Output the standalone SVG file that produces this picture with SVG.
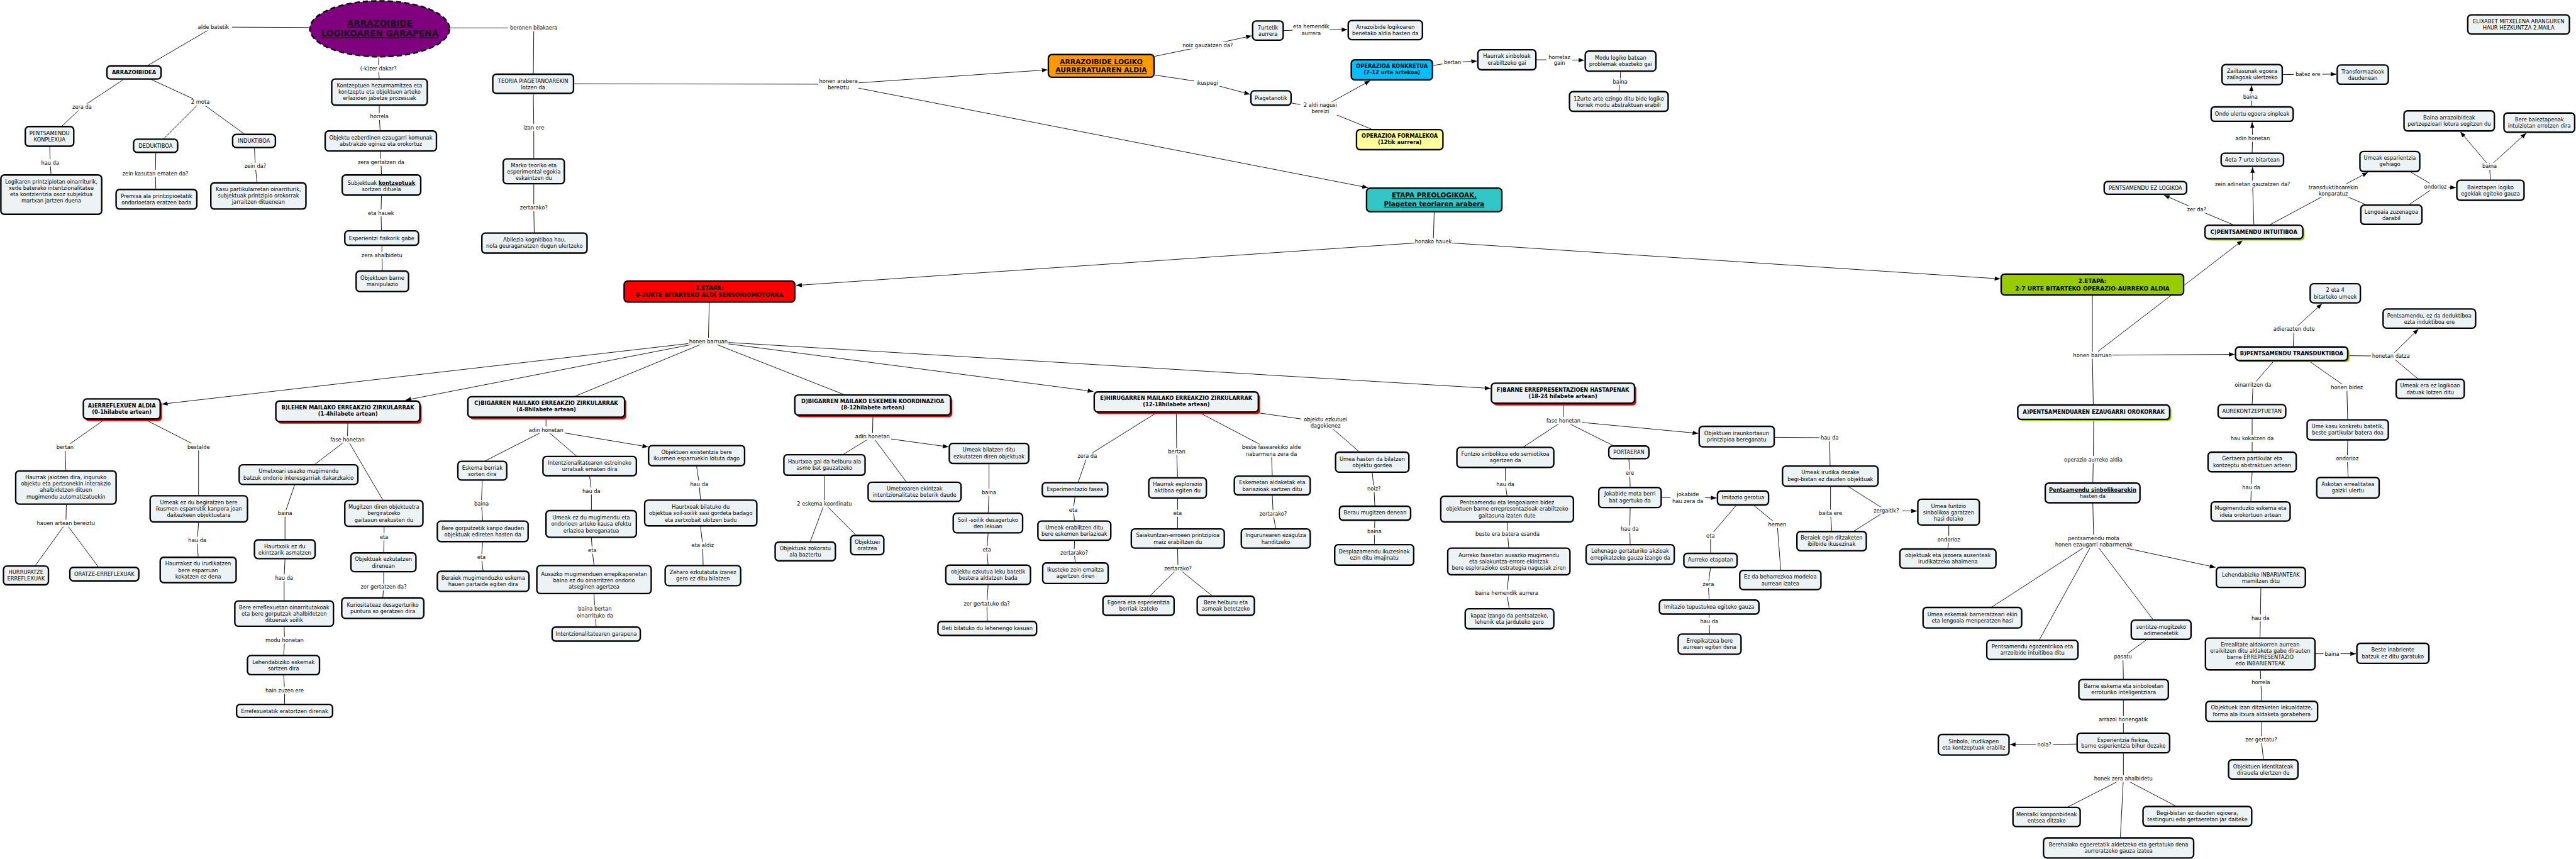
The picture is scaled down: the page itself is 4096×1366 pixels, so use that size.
<svg xmlns="http://www.w3.org/2000/svg" width="4096" height="1366" viewBox="0 0 4096 1366">
<style>
text{font-family:"DejaVu Sans","Liberation Sans",sans-serif;font-size:12px;text-anchor:middle;fill:#000}
.b{font-weight:bold}
.u{text-decoration:underline}
.n rect{fill:#EDF3F5;stroke:#000;stroke-width:3.4;rx:8px}
.n rect.sr{fill:#E60000;stroke:none}
.n rect.sg{fill:#99CC00;stroke:none}
.lb rect{fill:#fff;stroke:none}
.c path{fill:none;stroke:#000;stroke-width:1.3}
.c path.a{marker-end:url(#ah)}
</style>
<defs>
<marker id="ah" viewBox="0 0 13 10" refX="13" refY="5" markerWidth="13" markerHeight="10" markerUnits="userSpaceOnUse" orient="auto"><path d="M0,0L13,5L0,10z" fill="#000"/></marker>
</defs>
<rect width="4096" height="1366" fill="#fff"/>
<g transform="scale(0.694)">
<g id="connectors" class="c">
<path d="M707,63L489,62L337,151"/>
<path d="M282,183L188,245L141,290"/>
<path d="M346,182L459,234L374,319M459,234L560,307"/>
<path d="M114,336L115,373L117,401"/>
<path d="M357,350L356,397L357,434"/>
<path d="M583,339L585,381L589,419"/>
<path d="M868,131L867,157L869,181"/>
<path d="M869,242L869,267L871,300"/>
<path d="M872,347L873,372L874,401"/>
<path d="M874,448L873,488L874,529"/>
<path d="M875,563L875,585L876,621"/>
<path d="M1031,64L1223,64L1222,170"/>
<path d="M1222,215L1223,292L1223,364"/>
<path d="M1223,422L1223,476L1224,534"/>
<path d="M1315,192L1921,193"/>
<path class="a" d="M1921,193L2400,160"/>
<path class="a" d="M1921,193L3134,430"/>
<path class="a" d="M2646,129L2767,104L2868,82"/>
<path class="a" d="M2646,172L2766,190L2864,216"/>
<path class="a" d="M2941,70L3004,68L3087,68"/>
<path d="M2959,236L3025,248L3145,297"/>
<path class="a" d="M3025,248L3139,185"/>
<path class="a" d="M3283,150L3328,143L3384,140"/>
<path class="a" d="M3520,137L3573,137L3630,138"/>
<path d="M3713,164L3712,187L3709,210"/>
<path d="M3286,486L3284,554"/>
<path class="a" d="M3284,554L1824,654"/>
<path class="a" d="M3284,554L4583,639"/>
<path class="a" d="M5230,171L5288,170L5353,170"/>
<path class="a" d="M5160,245L5157,222L5159,196"/>
<path class="a" d="M5160,351L5161,317L5160,280"/>
<path class="a" d="M5164,516L5161,422L5161,383"/>
<path class="a" d="M5119,516L5033,480L4958,447"/>
<path d="M5199,516L5346,437L5423,470"/>
<path class="a" d="M5346,437L5425,395"/>
<path d="M5523,394L5580,428L5518,470"/>
<path class="a" d="M5580,428L5627,430"/>
<path d="M5706,413L5704,381"/>
<path class="a" d="M5704,381L5637,302"/>
<path class="a" d="M5704,381L5788,305"/>
<path d="M4794,677L4794,814L4796,928"/>
<path class="a" d="M4794,814L5120,812"/>
<path class="a" d="M4806,806L5138,551"/>
<path class="a" d="M5254,795L5256,754L5320,696"/>
<path d="M5380,815L5478,816L5541,869"/>
<path class="a" d="M5478,816L5541,754"/>
<path d="M5210,827L5162,882L5160,927"/>
<path d="M5290,827L5377,888L5379,962"/>
<path d="M5160,959L5160,1005L5160,1036"/>
<path d="M5160,1082L5158,1117L5157,1150"/>
<path d="M5379,1009L5378,1051L5380,1094"/>
<path d="M4797,962L4796,1053L4795,1107"/>
<path d="M4795,1153L4797,1240L4562,1392M4797,1240L4672,1467M4797,1240L4934,1421"/>
<path class="a" d="M4797,1240L5076,1300"/>
<path d="M5180,1347L5179,1416L5178,1462"/>
<path class="a" d="M5305,1498L5343,1498L5398,1498"/>
<path d="M5179,1536L5180,1564L5182,1607"/>
<path d="M5182,1654L5181,1695L5186,1741"/>
<path d="M4918,1466L4864,1505L4865,1557"/>
<path d="M4865,1604L4865,1649L4865,1680"/>
<path class="a" d="M4758,1705L4684,1706L4605,1706"/>
<path d="M4865,1726L4865,1784L4736,1850M4865,1784L4858,1920M4865,1784L4987,1848"/>
<path d="M1625,693L1623,782L1315,909M1623,782L1936,905"/>
<path class="a" d="M1623,782L371,926"/>
<path class="a" d="M1623,782L929,917"/>
<path class="a" d="M1623,782L2505,897"/>
<path class="a" d="M1623,782L3415,890"/>
<path d="M240,961L149,1025L151,1079"/>
<path d="M332,961L455,1024L455,1136"/>
<path d="M152,1156L151,1199L80,1297M151,1199L226,1300"/>
<path d="M455,1197L452,1238L454,1277"/>
<path d="M797,967L796,1007L720,1065M796,1007L878,1147"/>
<path d="M675,1111L653,1176L653,1237"/>
<path d="M653,1281L651,1324L651,1377"/>
<path d="M651,1436L652,1467L650,1502"/>
<path d="M650,1547L652,1582L652,1614"/>
<path d="M880,1207L880,1230L879,1267"/>
<path d="M879,1311L879,1345L877,1370"/>
<path d="M1251,957L1251,985L1110,1057M1251,985L1322,1046"/>
<path class="a" d="M1251,985L1485,1024"/>
<path d="M1105,1101L1103,1154L1106,1194"/>
<path d="M1106,1242L1103,1277L1107,1309"/>
<path d="M1351,1091L1355,1125L1355,1170"/>
<path d="M1355,1232L1357,1261L1361,1296"/>
<path d="M1361,1361L1363,1402L1366,1437"/>
<path d="M1596,1068L1602,1109L1605,1146"/>
<path d="M1605,1206L1610,1250L1611,1296"/>
<path d="M2000,952L1999,1000L1931,1042M1999,1000L2077,1105"/>
<path class="a" d="M1999,1000L2173,1024"/>
<path d="M1889,1090L1889,1154L1856,1242M1889,1154L1962,1227"/>
<path d="M2266,1063L2266,1128L2264,1176"/>
<path d="M2264,1222L2261,1260L2264,1295"/>
<path d="M2264,1340L2261,1383L2262,1424"/>
<path d="M2651,945L2491,1045L2470,1106"/>
<path d="M2695,945L2696,1035L2698,1095"/>
<path d="M2747,945L2913,1032L2915,1091"/>
<path d="M2883,946L3037,968L3115,1036"/>
<path d="M2463,1139L2459,1168L2462,1194"/>
<path d="M2462,1239L2461,1266L2464,1290"/>
<path d="M2698,1142L2698,1176L2698,1212"/>
<path d="M2698,1257L2699,1302L2634,1366M2699,1302L2778,1366"/>
<path d="M2915,1135L2917,1177L2923,1212"/>
<path d="M3582,925L3582,964L3489,1025M3582,964L3698,1022"/>
<path class="a" d="M3582,964L3891,993"/>
<path d="M3144,1083L3148,1120L3150,1160"/>
<path d="M3150,1193L3149,1218L3149,1248"/>
<path d="M3449,1072L3449,1110L3453,1137"/>
<path d="M3453,1197L3454,1224L3457,1256"/>
<path d="M3457,1318L3452,1359L3458,1395"/>
<path d="M3732,1052L3734,1084L3735,1117"/>
<path class="a" d="M3806,1140L3867,1140L3933,1141"/>
<path d="M3735,1164L3734,1212L3735,1248"/>
<path d="M3978,1158L3919,1227L3919,1268"/>
<path d="M4018,1158L4072,1202L4080,1307"/>
<path d="M3919,1301L3914,1339L3916,1375"/>
<path d="M3916,1408L3916,1424L3917,1453"/>
<path d="M4066,1002L4192,1003L4193,1068"/>
<path d="M4194,1115L4194,1176L4197,1218"/>
<path d="M4235,1115L4322,1170L4246,1218"/>
<path class="a" d="M4322,1170L4392,1171"/>
<path d="M4465,1204L4465,1236L4463,1258"/>
</g>
<g id="labels" class="lb">
<rect x="446.5" y="54" width="85" height="16"/><text x="489" y="66.3">alde batetik</text>
<rect x="162" y="237" width="52" height="16"/><text x="188" y="249.3">zera da</text>
<rect x="436" y="226" width="46" height="16"/><text x="459" y="238.3">2 mota</text>
<rect x="92" y="365" width="46" height="16"/><text x="115" y="377.3">hau da</text>
<rect x="277" y="389" width="158" height="16"/><text x="356" y="401.3">zein kasutan ematen da?</text>
<rect x="555.5" y="373" width="59" height="16"/><text x="585" y="385.3">zein da?</text>
<rect x="818" y="149" width="98" height="16"/><text x="867" y="161.3">(-k)zer dakar?</text>
<rect x="843" y="259" width="52" height="16"/><text x="869" y="271.3">horrela</text>
<rect x="814" y="364" width="118" height="16"/><text x="873" y="376.3">zera gertatzen da</text>
<rect x="840.5" y="480" width="65" height="16"/><text x="873" y="492.3">eta hauek</text>
<rect x="822.5" y="577" width="105" height="16"/><text x="875" y="589.3">zera ahalbidetu</text>
<rect x="1164" y="56" width="118" height="16"/><text x="1223" y="68.3">beronen bilakaera</text>
<rect x="1193.5" y="284" width="59" height="16"/><text x="1223" y="296.3">izan ere</text>
<rect x="1187" y="468" width="72" height="16"/><text x="1223" y="480.3">zertarako?</text>
<rect x="1875" y="177.6" width="92" height="30.7"/><text><tspan x="1921" y="189.9">honen arabera</tspan><tspan x="1921" y="204.6">bereiztu</tspan></text>
<rect x="2704.5" y="96" width="125" height="16"/><text x="2767" y="108.3">noiz gauzatzen da?</text>
<rect x="2736.5" y="182" width="59" height="16"/><text x="2766" y="194.3">ikuspegi</text>
<rect x="2961.5" y="53" width="85" height="30.8"/><text><tspan x="3004" y="65.3">eta hemendik</tspan><tspan x="3004" y="80.1">aurrera</tspan></text>
<rect x="2979" y="233" width="92" height="30.5"/><text><tspan x="3025" y="245.3">2 aldi nagusi</tspan><tspan x="3025" y="259.8">bereizi</tspan></text>
<rect x="3305" y="135" width="46" height="16"/><text x="3328" y="147.3">bertan</text>
<rect x="3543.5" y="122.5" width="59" height="30.3"/><text><tspan x="3573" y="134.8">horretaz</tspan><tspan x="3573" y="149.1">gain</tspan></text>
<rect x="3692.5" y="179" width="39" height="16"/><text x="3712" y="191.3">baina</text>
<rect x="3241.5" y="546" width="85" height="16"/><text x="3284" y="558.3">honako hauek</text>
<rect x="5255.5" y="162" width="65" height="16"/><text x="5288" y="174.3">batez ere</text>
<rect x="5136.5" y="214" width="39" height="16"/><text x="5156" y="226.3">baina</text>
<rect x="5118.5" y="309" width="85" height="16"/><text x="5161" y="321.3">adin honetan</text>
<rect x="5069" y="414" width="184" height="16"/><text x="5161" y="426.3">zein adinetan gauzatzen da?</text>
<rect x="5007" y="472" width="52" height="16"/><text x="5033" y="484.3">zer da?</text>
<rect x="5283.5" y="421.3" width="125" height="30.3"/><text><tspan x="5346" y="433.6">transduktiboarekin</tspan><tspan x="5346" y="447.9">konparatuz</tspan></text>
<rect x="5550.5" y="420" width="59" height="16"/><text x="5580" y="432.3">ondorioz</text>
<rect x="5684.5" y="373" width="39" height="16"/><text x="5704" y="385.3">baina</text>
<rect x="1577" y="774" width="92" height="16"/><text x="1623" y="786.3">honen barruan</text>
<rect x="126" y="1017" width="46" height="16"/><text x="149" y="1029.3">bertan</text>
<rect x="425.5" y="1016" width="59" height="16"/><text x="455" y="1028.3">bestalde</text>
<rect x="78.5" y="1191" width="145" height="16"/><text x="151" y="1203.3">hauen artean bereiztu</text>
<rect x="429" y="1230" width="46" height="16"/><text x="452" y="1242.3">hau da</text>
<rect x="753.5" y="999" width="85" height="16"/><text x="796" y="1011.3">fase honetan</text>
<rect x="633.5" y="1168" width="39" height="16"/><text x="653" y="1180.3">baina</text>
<rect x="867" y="1222" width="26" height="16"/><text x="880" y="1234.3">eta</text>
<rect x="628" y="1316" width="46" height="16"/><text x="651" y="1328.3">hau da</text>
<rect x="820" y="1337" width="118" height="16"/><text x="879" y="1349.3">zer gertatzen da?</text>
<rect x="609.5" y="1459" width="85" height="16"/><text x="652" y="1471.3">modu honetan</text>
<rect x="603" y="1574" width="98" height="16"/><text x="652" y="1586.3">hain zuzen ere</text>
<rect x="1208.5" y="977" width="85" height="16"/><text x="1251" y="989.3">adin honetan</text>
<rect x="1083.5" y="1146" width="39" height="16"/><text x="1103" y="1158.3">baina</text>
<rect x="1332" y="1117" width="46" height="16"/><text x="1355" y="1129.3">hau da</text>
<rect x="1090" y="1269" width="26" height="16"/><text x="1103" y="1281.3">eta</text>
<rect x="1344" y="1253" width="26" height="16"/><text x="1357" y="1265.3">eta</text>
<rect x="1314" y="1386.6" width="98" height="31.4"/><text><tspan x="1363" y="1398.9">baina bertan</tspan><tspan x="1363" y="1414.3">oinarrituko da</tspan></text>
<rect x="1579" y="1101" width="46" height="16"/><text x="1602" y="1113.3">hau da</text>
<rect x="1577.5" y="1242" width="65" height="16"/><text x="1610" y="1254.3">eta aldiz</text>
<rect x="1956.5" y="992" width="85" height="16"/><text x="1999" y="1004.3">adin honetan</text>
<rect x="1823.5" y="1146" width="131" height="16"/><text x="1889" y="1158.3">2 eskema koordinatu</text>
<rect x="2246.5" y="1120" width="39" height="16"/><text x="2266" y="1132.3">baina</text>
<rect x="2248" y="1252" width="26" height="16"/><text x="2261" y="1264.3">eta</text>
<rect x="2202" y="1375" width="118" height="16"/><text x="2261" y="1387.3">zer gertatuko da?</text>
<rect x="2465" y="1037" width="52" height="16"/><text x="2491" y="1049.3">zera da</text>
<rect x="2673" y="1027" width="46" height="16"/><text x="2696" y="1039.3">bertan</text>
<rect x="2837.5" y="1017" width="151" height="31"/><text><tspan x="2913" y="1029.3">beste fasearekiko alde</tspan><tspan x="2913" y="1044.3">nabarmena zera da</tspan></text>
<rect x="2446" y="1160" width="26" height="16"/><text x="2459" y="1172.3">eta</text>
<rect x="2425" y="1258" width="72" height="16"/><text x="2461" y="1270.3">zertarako?</text>
<rect x="2685" y="1168" width="26" height="16"/><text x="2698" y="1180.3">eta</text>
<rect x="2663" y="1294" width="72" height="16"/><text x="2699" y="1306.3">zertarako?</text>
<rect x="2881" y="1169" width="72" height="16"/><text x="2917" y="1181.3">zertarako?</text>
<rect x="2981" y="953" width="112" height="30"/><text><tspan x="3037" y="965.3">objektu ezkutuei</tspan><tspan x="3037" y="979.3">dagokienez</tspan></text>
<rect x="3539.5" y="956" width="85" height="16"/><text x="3582" y="968.3">fase honetan</text>
<rect x="3128.5" y="1112" width="39" height="16"/><text x="3148" y="1124.3">noiz?</text>
<rect x="3129.5" y="1210" width="39" height="16"/><text x="3149" y="1222.3">baina</text>
<rect x="3426" y="1102" width="46" height="16"/><text x="3449" y="1114.3">hau da</text>
<rect x="3375" y="1216" width="158" height="16"/><text x="3454" y="1228.3">beste era batera esanda</text>
<rect x="3376.5" y="1351" width="151" height="16"/><text x="3452" y="1363.3">baina hemendik aurrera</text>
<rect x="3721" y="1076" width="26" height="16"/><text x="3734" y="1088.3">ere</text>
<rect x="3827.5" y="1125" width="79" height="31"/><text><tspan x="3867" y="1137.3">jokabide</tspan><tspan x="3867" y="1152.3">hau zera da</tspan></text>
<rect x="3711" y="1204" width="46" height="16"/><text x="3734" y="1216.3">hau da</text>
<rect x="3906" y="1219" width="26" height="16"/><text x="3919" y="1231.3">eta</text>
<rect x="4052.5" y="1194" width="39" height="16"/><text x="4072" y="1206.3">hemen</text>
<rect x="3898" y="1331" width="32" height="16"/><text x="3914" y="1343.3">zera</text>
<rect x="3893" y="1416" width="46" height="16"/><text x="3916" y="1428.3">hau da</text>
<rect x="4169" y="995" width="46" height="16"/><text x="4192" y="1007.3">hau da</text>
<rect x="4161.5" y="1168" width="65" height="16"/><text x="4194" y="1180.3">baita ere</text>
<rect x="4286" y="1162" width="72" height="16"/><text x="4322" y="1174.3">zergaitik?</text>
<rect x="4435.5" y="1228" width="59" height="16"/><text x="4465" y="1240.3">ondorioz</text>
<rect x="4748" y="806" width="92" height="16"/><text x="4794" y="818.3">honen barruan</text>
<rect x="5203.5" y="746" width="105" height="16"/><text x="5256" y="758.3">adierazten dute</text>
<rect x="5432" y="808" width="92" height="16"/><text x="5478" y="820.3">honetan datza</text>
<rect x="5113" y="874" width="98" height="16"/><text x="5162" y="886.3">oinarritzen da</text>
<rect x="5337.5" y="880" width="79" height="16"/><text x="5377" y="892.3">honen bidez</text>
<rect x="5107.5" y="997" width="105" height="16"/><text x="5160" y="1009.3">hau kokatzen da</text>
<rect x="5135" y="1109" width="46" height="16"/><text x="5158" y="1121.3">hau da</text>
<rect x="5348.5" y="1043" width="59" height="16"/><text x="5378" y="1055.3">ondorioz</text>
<rect x="4720.5" y="1045" width="151" height="16"/><text x="4796" y="1057.3">operazio aurreko aldia</text>
<rect x="4701.5" y="1225" width="191" height="31"/><text><tspan x="4797" y="1237.3">pentsamendu mota</tspan><tspan x="4797" y="1252.3">honen ezaugarri nabarmenak</tspan></text>
<rect x="5156" y="1408" width="46" height="16"/><text x="5179" y="1420.3">hau da</text>
<rect x="5323.5" y="1490" width="39" height="16"/><text x="5343" y="1502.3">baina</text>
<rect x="5154" y="1556" width="52" height="16"/><text x="5180" y="1568.3">horrela</text>
<rect x="5138.5" y="1687" width="85" height="16"/><text x="5181" y="1699.3">zer gertatu?</text>
<rect x="4841" y="1497" width="46" height="16"/><text x="4864" y="1509.3">pasatu</text>
<rect x="4802.5" y="1641" width="125" height="16"/><text x="4865" y="1653.3">arrazoi honengatik</text>
<rect x="4664.5" y="1698" width="39" height="16"/><text x="4684" y="1710.3">nola?</text>
<rect x="4792.5" y="1776" width="145" height="16"/><text x="4865" y="1788.3">honek zera ahalbidetu</text>
</g>
<g id="nodes">
<g id="n1"><ellipse cx="870" cy="66" rx="160" ry="64" fill="#800080" stroke="#000" stroke-width="3.5" stroke-dasharray="12 7"/><text class="b u" style="font-size:19.5px;fill:#161616"><tspan x="870" y="60">ARRAZOIBIDE</tspan><tspan x="870" y="84">LOGIKOAREN GARAPENA</tspan></text></g>
<g id="n2" class="n"><rect x="245" y="151" width="124" height="30"/><text class="b" x="307" y="170.3">ARRAZOIBIDEA</text></g>
<g id="n3" class="n"><rect x="58" y="290" width="111" height="45"/><text><tspan x="113.5" y="309.5">PENTSAMENDU</tspan><tspan x="113.5" y="324">KONPLEXUA</tspan></text></g>
<g id="n4" class="n"><rect x="306" y="319" width="101" height="30"/><text x="356.5" y="338.3">DEDUKTIBOA</text></g>
<g id="n5" class="n"><rect x="533" y="308" width="98" height="30"/><text x="582" y="327.3">INDUKTIBOA</text></g>
<g id="n6" class="n"><rect x="2" y="401" width="231" height="90"/><text><tspan x="117.5" y="421">Logikaren printzipiotan oinarriturik,</tspan><tspan x="117.5" y="435.5">xede baterako intentzionalitatea</tspan><tspan x="117.5" y="450">eta kontzientzia osoz subjektua</tspan><tspan x="117.5" y="464">martxan jartzen duena</tspan></text></g>
<g id="n7" class="n"><rect x="266" y="434" width="185" height="45"/><text><tspan x="358.5" y="454.5">Premisa ala printzipioetatik</tspan><tspan x="358.5" y="469">ondorioetara eratzen bada</tspan></text></g>
<g id="n8" class="n"><rect x="483" y="419" width="218" height="60"/><text><tspan x="592" y="438">Kasu partikularretan oinarriturik,</tspan><tspan x="592" y="453">subjektuak printzipio orokorrak</tspan><tspan x="592" y="467.5">jarraitzen dituenean</tspan></text></g>
<g id="n9" class="n"><rect x="760" y="181" width="219" height="60"/><text><tspan x="869.5" y="200.5">Kontzeptuen hezurmamitzea eta</tspan><tspan x="869.5" y="215.3">kontzeptu eta objektuen arteko</tspan><tspan x="869.5" y="229.5">erlazioen jabetze prozesuak</tspan></text></g>
<g id="n10" class="n"><rect x="745" y="300" width="255" height="46"/><text><tspan x="872.5" y="319.3">Objektu ezberdinen ezaugarri komunak</tspan><tspan x="872.5" y="334">abstrakzio eginez eta orokortuz</tspan></text></g>
<g id="n11" class="n"><rect x="784" y="401" width="180" height="46"/><text><tspan x="874" y="424">Subjektuak <tspan class="b u">kontzeptuak</tspan></tspan><tspan x="874" y="438">sortzen dituela</tspan></text></g>
<g id="n12" class="n"><rect x="790" y="529" width="169" height="33"/><text x="874.5" y="550">Esperientzi fisikorik gabe</text></g>
<g id="n13" class="n"><rect x="816" y="621" width="120" height="47"/><text><tspan x="876" y="641">Objektuen barne</tspan><tspan x="876" y="656">manipulazio</tspan></text></g>
<g id="n14" class="n"><rect x="1129" y="170" width="185" height="44"/><text><tspan x="1221.5" y="189.5">TEORIA PIAGETANOAREKIN</tspan><tspan x="1221.5" y="204">lotzen da</tspan></text></g>
<g id="n15" class="n"><rect x="1153" y="364" width="140" height="57"/><text><tspan x="1223" y="383">Marko teoriko eta</tspan><tspan x="1223" y="398">esperimental egokia</tspan><tspan x="1223" y="412">eskaintzen du</tspan></text></g>
<g id="n16" class="n"><rect x="1104" y="534" width="241" height="46"/><text><tspan x="1224.5" y="553.5">Abilezia kognitiboa hau,</tspan><tspan x="1224.5" y="568">nola geuraganatzen dugun ulertzeko</tspan></text></g>
<g id="n17" class="n"><rect x="2402" y="125" width="242" height="52" style="fill:#FF9900"/><text class="b u" style="font-size:15.5px"><tspan x="2523" y="147">ARRAZOIBIDE LOGIKO</tspan><tspan x="2523" y="166">AURRERATUAREN ALDIA</tspan></text></g>
<g id="n18" class="n"><rect x="2870" y="48" width="70" height="44"/><text><tspan x="2905" y="67.5">7urtetik</tspan><tspan x="2905" y="82.5">aurrera</tspan></text></g>
<g id="n19" class="n"><rect x="2866" y="208" width="92" height="33"/><text x="2912" y="228.5">Piagetanotik</text></g>
<g id="n20" class="n"><rect x="3089" y="47" width="170" height="44"/><text><tspan x="3174" y="66.3">Arrazoibide logikoaren</tspan><tspan x="3174" y="81">benetako aldia hasten da</tspan></text></g>
<g id="n21" class="n"><rect x="3096" y="137" width="186" height="46" style="fill:#00BFFF"/><text class="b"><tspan x="3189" y="156">OPERAZIOA KONKRETUA</tspan><tspan x="3189" y="170.5">(7-12 urte artekoa)</tspan></text></g>
<g id="n22" class="n"><rect x="3108" y="297" width="198" height="46" style="fill:#FFFF99"/><text class="b"><tspan x="3207" y="316">OPERAZIOA FORMALEKOA</tspan><tspan x="3207" y="330.5">(12tik aurrera)</tspan></text></g>
<g id="n23" class="n"><rect x="3386" y="114" width="133" height="46"/><text><tspan x="3452.5" y="133">Haurrak sinboloak</tspan><tspan x="3452.5" y="148">erabiltzeko gai</tspan></text></g>
<g id="n24" class="n"><rect x="3632" y="117" width="162" height="46"/><text><tspan x="3713" y="136.5">Modu logiko batean</tspan><tspan x="3713" y="151">problemak ebazteko gai</tspan></text></g>
<g id="n25" class="n"><rect x="3596" y="210" width="226" height="45"/><text><tspan x="3709" y="230.3">12urte arte ezingo ditu bide logiko</tspan><tspan x="3709" y="245">horiek modu abstraktuan erabili</tspan></text></g>
<g id="n26" class="n"><rect x="3131" y="431" width="310" height="54" style="fill:#33C6C6"/><text class="b u" style="font-size:15px"><tspan x="3286" y="453">ETAPA PREOLOGIKOAK,</tspan><tspan x="3286" y="472.3">Piageten teoriaren arabera</tspan></text></g>
<g id="n27" class="n"><rect x="5654" y="34" width="233" height="44"/><text><tspan x="5770.5" y="52.7">ELIXABET MITXELENA ARANGUREN</tspan><tspan x="5770.5" y="67.4">HAUR HEZKUNTZA 2.MAILA</tspan></text></g>
<g id="n28" class="n"><rect x="5091" y="148" width="138" height="46"/><text><tspan x="5160" y="167.3">Zailtasunak egoera</tspan><tspan x="5160" y="182">zailagoak ulertzeko</tspan></text></g>
<g id="n29" class="n"><rect x="5355" y="149" width="117" height="44"/><text><tspan x="5413.5" y="168.3">Transformazioak</tspan><tspan x="5413.5" y="182.8">daudenean</tspan></text></g>
<g id="n30" class="n"><rect x="5066" y="245" width="188" height="33"/><text x="5160" y="265.3">Ondo ulertu egoera sinpleak</text></g>
<g id="n31" class="n"><rect x="5089" y="351" width="143" height="30"/><text x="5160.5" y="370">4eta 7 urte bitartean</text></g>
<g id="n32" class="n"><rect x="4821" y="416" width="189" height="29"/><text x="4915.5" y="435">PENTSAMENDU EZ LOGIKOA</text></g>
<g id="n33" class="n"><rect class="sg" x="5056" y="520" width="224" height="31"/><rect x="5052" y="516" width="224" height="31"/><text class="b" x="5164" y="535.5">C)PENTSAMENDU INTUITIBOA</text></g>
<g id="n34" class="n"><rect x="5407" y="347" width="137" height="46"/><text><tspan x="5475.5" y="366.3">Umeak esparientzia</tspan><tspan x="5475.5" y="381">gehiago</tspan></text></g>
<g id="n35" class="n"><rect x="5409" y="470" width="140" height="44"/><text><tspan x="5479" y="490.3">Lengoaia zuzenagoa</tspan><tspan x="5479" y="504.7">darabil</tspan></text></g>
<g id="n36" class="n"><rect x="5629" y="413" width="154" height="46"/><text><tspan x="5706" y="433.6">Baieztapen logiko</tspan><tspan x="5706" y="448">egokiak egiteko gauza</tspan></text></g>
<g id="n37" class="n"><rect x="5508" y="254" width="207" height="46"/><text><tspan x="5611.5" y="273.7">Baina arrazoibideak</tspan><tspan x="5611.5" y="288.4">pertzepzioari lotura segitzen du</tspan></text></g>
<g id="n38" class="n"><rect x="5737" y="259" width="162" height="44"/><text><tspan x="5818" y="278.7">Bere baieztapenak</tspan><tspan x="5818" y="293">intuiziotan errotzen dira</tspan></text></g>
<g id="n39" class="n"><rect x="4585" y="628" width="418" height="48" style="fill:#99CC00"/><text class="b" style="font-size:13px"><tspan x="4794" y="647.7">2.ETAPA:</tspan><tspan x="4794" y="665">2-7 URTE BITARTEKO OPERAZIO-AURREKO ALDIA</tspan></text></g>
<g id="n40" class="n"><rect x="1430" y="644" width="391" height="48" style="fill:#FF0000"/><text class="b" style="font-size:13px"><tspan x="1625.5" y="663.7">1.ETAPA:</tspan><tspan x="1625.5" y="680.7">0-2URTE BITARTEKO ALDI SENSORIOMOTORRA</tspan></text></g>
<g id="n41" class="n"><rect class="sr" x="195" y="919" width="176" height="46"/><rect x="191" y="914" width="176" height="46"/><text class="b"><tspan x="279" y="933">A)ERREFLEXUEN ALDIA</tspan><tspan x="279" y="948">(0-1hilabete artean)</tspan></text></g>
<g id="n42" class="n"><rect x="36" y="1079" width="230" height="76"/><text><tspan x="151" y="1098.3">Haurrak jaiotzen dira, inguruko</tspan><tspan x="151" y="1113">objektu eta pertsonekin interakzio</tspan><tspan x="151" y="1127.3">ahalbidetzen dituen</tspan><tspan x="151" y="1142">mugimendu automatizatuekin</tspan></text></g>
<g id="n43" class="n"><rect x="8" y="1297" width="103" height="43"/><text><tspan x="59.5" y="1315.8">HURRUPATZE</tspan><tspan x="59.5" y="1330.3">ERREFLEXUAK</tspan></text></g>
<g id="n44" class="n"><rect x="160" y="1300" width="158" height="31"/><text x="239" y="1320.3">ORATZE-ERREFLEXUAK</text></g>
<g id="n45" class="n"><rect x="344" y="1136" width="223" height="60"/><text><tspan x="455.5" y="1155">Umeak ez du begiratzen bere</tspan><tspan x="455.5" y="1170">ikusmen-esparrutik kanpora joan</tspan><tspan x="455.5" y="1184.3">daitezkeen objektuetara</tspan></text></g>
<g id="n46" class="n"><rect x="367" y="1277" width="174" height="58"/><text><tspan x="454" y="1296">Haurrakez du irudikatzen</tspan><tspan x="454" y="1310.7">bere esparruan</tspan><tspan x="454" y="1325.6">kokatzen ez dena</tspan></text></g>
<g id="n47" class="n"><rect class="sr" x="636" y="924" width="330" height="47"/><rect x="632" y="919" width="330" height="47"/><text class="b"><tspan x="797" y="938">B)LEHEN MAILAKO ERREAKZIO ZIRKULARRAK</tspan><tspan x="797" y="952.6">(1-4hilabete artean)</tspan></text></g>
<g id="n48" class="n"><rect x="548" y="1065" width="272" height="45"/><text><tspan x="684" y="1084">Umetxoari usazko mugimendu</tspan><tspan x="684" y="1098.8">batzuk ondorio interesgarriak dakarzkakio</tspan></text></g>
<g id="n49" class="n"><rect x="790" y="1147" width="179" height="59"/><text><tspan x="879.5" y="1166">Mugitzen diren objektuetra</tspan><tspan x="879.5" y="1180.7">bergiratzeko</tspan><tspan x="879.5" y="1195.3">gaitasun erakusten du</tspan></text></g>
<g id="n50" class="n"><rect x="583" y="1237" width="139" height="43"/><text><tspan x="652.5" y="1256.2">Haurtxoik ez du</tspan><tspan x="652.5" y="1271">ekintzarik asmatzen</tspan></text></g>
<g id="n51" class="n"><rect x="804" y="1267" width="149" height="43"/><text><tspan x="878.5" y="1286">Objektuak ezkutatzen</tspan><tspan x="878.5" y="1300.8">direnean</tspan></text></g>
<g id="n52" class="n"><rect x="538" y="1377" width="226" height="58"/><text><tspan x="651" y="1396.3">Bere erreflexuetan oinarritutakoak</tspan><tspan x="651" y="1411.3">eta bere gorputzak ahalbidetzen</tspan><tspan x="651" y="1425.7">dituenak soilik</tspan></text></g>
<g id="n53" class="n"><rect x="783" y="1370" width="188" height="47"/><text><tspan x="877" y="1390.3">Kuriositateaz desagerturiko</tspan><tspan x="877" y="1405">puntura so geratzen dira</tspan></text></g>
<g id="n54" class="n"><rect x="567" y="1502" width="165" height="44"/><text><tspan x="649.5" y="1521.6">Lehendabiziko eskemak</tspan><tspan x="649.5" y="1536">sortzen dira</tspan></text></g>
<g id="n55" class="n"><rect x="542" y="1614" width="220" height="30"/><text x="652" y="1633.3">Errefexuetatik eratortzen direnak</text></g>
<g id="n56" class="n"><rect class="sr" x="1076" y="914" width="359" height="47"/><rect x="1072" y="909" width="359" height="47"/><text class="b"><tspan x="1251.5" y="928">C)BIGARREN MAILAKO ERREAKZIO ZIRKULARRAK</tspan><tspan x="1251.5" y="942.7">(4-8hilabete artean)</tspan></text></g>
<g id="n57" class="n"><rect x="1049" y="1057" width="112" height="43"/><text><tspan x="1105" y="1076.3">Eskema berriak</tspan><tspan x="1105" y="1091">sorten dira</tspan></text></g>
<g id="n58" class="n"><rect x="1244" y="1046" width="214" height="44"/><text><tspan x="1351" y="1065">Intentzionalitatearen estreineko</tspan><tspan x="1351" y="1079.7">urratsak ematen dira</tspan></text></g>
<g id="n59" class="n"><rect x="1002" y="1194" width="208" height="47"/><text><tspan x="1106" y="1214">Bere gorputzetik kanpo dauden</tspan><tspan x="1106" y="1229">objektuak edireten hasten da</tspan></text></g>
<g id="n60" class="n"><rect x="1251" y="1170" width="207" height="61"/><text><tspan x="1354.5" y="1190.3">Umeak ez du mugimendu eta</tspan><tspan x="1354.5" y="1205">ondorioen arteko kausa efektu</tspan><tspan x="1354.5" y="1219.8">erlazioa bereganatua</tspan></text></g>
<g id="n61" class="n"><rect x="1002" y="1309" width="210" height="46"/><text><tspan x="1107" y="1328.6">Beraiek mugimenduzko eskema</tspan><tspan x="1107" y="1343">hauen partaide egiten dira</tspan></text></g>
<g id="n62" class="n"><rect x="1230" y="1296" width="262" height="64"/><text><tspan x="1361" y="1319.6">Ausazko mugimenduen errepikapenetan</tspan><tspan x="1361" y="1334">baino ez du oinarritzen ondorio</tspan><tspan x="1361" y="1348.6">atseginen agertzea</tspan></text></g>
<g id="n63" class="n"><rect x="1265" y="1437" width="202" height="32"/><text x="1366" y="1456.3">Intentzionalitatearen garapena</text></g>
<g id="n64" class="n"><rect x="1486" y="1021" width="220" height="46"/><text><tspan x="1596" y="1040.3">Objektuen existentzia bere</tspan><tspan x="1596" y="1055">ikusmen esparruekin lotuta dago</tspan></text></g>
<g id="n65" class="n"><rect x="1477" y="1146" width="257" height="59"/><text><tspan x="1605.5" y="1166">Haurtxoak bilatuko du</tspan><tspan x="1605.5" y="1180.7">objektua soil-soilik sasi gordeta badago</tspan><tspan x="1605.5" y="1195.3">eta zertxobait ukitzen badu</tspan></text></g>
<g id="n66" class="n"><rect x="1524" y="1296" width="173" height="46"/><text><tspan x="1610.5" y="1315.3">Zeharo ezkutatuta izanez</tspan><tspan x="1610.5" y="1330">gero ez ditu bilatzen</tspan></text></g>
<g id="n67" class="n"><rect class="sr" x="1825" y="910" width="357" height="46"/><rect x="1821" y="905" width="357" height="46"/><text class="b"><tspan x="1999.5" y="924">D)BIGARREN MAILAKO ESKEMEN KOORDINAZIOA</tspan><tspan x="1999.5" y="938.7">(8-12hilabete artean)</tspan></text></g>
<g id="n68" class="n"><rect x="1796" y="1042" width="186" height="47"/><text><tspan x="1889" y="1062.3">Haurtxoa gai da helburu ala</tspan><tspan x="1889" y="1077">asmo bat gauzatzeko</tspan></text></g>
<g id="n69" class="n"><rect x="1989" y="1105" width="213" height="44"/><text><tspan x="2095.5" y="1124">Umetxoaren ekintzak</tspan><tspan x="2095.5" y="1138.7">intentzionalitatez beterik daude</tspan></text></g>
<g id="n70" class="n"><rect x="2175" y="1016" width="182" height="46"/><text><tspan x="2266" y="1035">Umeak bilatzen ditu</tspan><tspan x="2266" y="1049.8">ezkutatzen diren objektuak</tspan></text></g>
<g id="n71" class="n"><rect x="1776" y="1242" width="138" height="43"/><text><tspan x="1845" y="1261">Objektuak zokoratu</tspan><tspan x="1845" y="1275.7">ala baztertu</tspan></text></g>
<g id="n72" class="n"><rect x="1949" y="1227" width="76" height="44"/><text><tspan x="1987" y="1246.3">Objektuei</tspan><tspan x="1987" y="1261">oratzea</tspan></text></g>
<g id="n73" class="n"><rect x="2184" y="1176" width="159" height="45"/><text><tspan x="2263.5" y="1196">Soil -soilik desagertuko</tspan><tspan x="2263.5" y="1210.6">den lekuan</tspan></text></g>
<g id="n74" class="n"><rect x="2167" y="1295" width="194" height="44"/><text><tspan x="2264" y="1313.7">objektu ezkutua leku batetik</tspan><tspan x="2264" y="1329">bestera aldatzen bada</tspan></text></g>
<g id="n75" class="n"><rect x="2149" y="1424" width="226" height="32"/><text x="2262" y="1443.3">Beti bilatuko du lehenengo kasuan</text></g>
<g id="n76" class="n"><rect class="sr" x="2511" y="903" width="376" height="46"/><rect x="2507" y="898" width="376" height="46"/><text class="b"><tspan x="2695" y="916.6">E)HIRUGARREN MAILAKO ERREAKZIO ZIRKULARRAK</tspan><tspan x="2695" y="931.3">(12-18hilabete artean)</tspan></text></g>
<g id="n77" class="n"><rect x="2388" y="1106" width="150" height="32"/><text x="2463" y="1124.8">Esperimentazio fasea</text></g>
<g id="n78" class="n"><rect x="2378" y="1194" width="167" height="44"/><text><tspan x="2461.5" y="1212.8">Umeak erabiltzen ditu</tspan><tspan x="2461.5" y="1227.6">bere eskemen bariazioak</tspan></text></g>
<g id="n79" class="n"><rect x="2389" y="1290" width="150" height="47"/><text><tspan x="2464" y="1310.3">Ikusteko zein emaitza</tspan><tspan x="2464" y="1324.8">agertzen diren</tspan></text></g>
<g id="n80" class="n"><rect x="2632" y="1095" width="132" height="46"/><text><tspan x="2698" y="1114">Haurrak esplorazio</tspan><tspan x="2698" y="1128.7">aktiboa egiten du</tspan></text></g>
<g id="n81" class="n"><rect x="2592" y="1212" width="213" height="44"/><text><tspan x="2698.5" y="1231">Saiakuntzan-erroeen printzipioa</tspan><tspan x="2698.5" y="1245.8">maiz erabiltzen du</tspan></text></g>
<g id="n82" class="n"><rect x="2527" y="1366" width="163" height="44"/><text><tspan x="2608.5" y="1384.8">Egoera eta esperientzia</tspan><tspan x="2608.5" y="1399.3">berriak izateko</tspan></text></g>
<g id="n83" class="n"><rect x="2743" y="1366" width="131" height="44"/><text><tspan x="2808.5" y="1384.8">Bere helburu eta</tspan><tspan x="2808.5" y="1399.3">asmoak betetzeko</tspan></text></g>
<g id="n84" class="n"><rect x="2828" y="1091" width="174" height="43"/><text><tspan x="2915" y="1110">Eskemetan aldaketak eta</tspan><tspan x="2915" y="1124.8">bariazioak sartzen ditu</tspan></text></g>
<g id="n85" class="n"><rect x="2844" y="1212" width="158" height="44"/><text><tspan x="2923" y="1231">Ingurunearen ezagutza</tspan><tspan x="2923" y="1245.8">handitzeko</tspan></text></g>
<g id="n86" class="n"><rect class="sr" x="3421" y="883" width="328" height="46"/><rect x="3417" y="878" width="328" height="46"/><text class="b"><tspan x="3581" y="897">F)BARNE ERREPRESENTAZIOEN HASTAPENAK</tspan><tspan x="3581" y="912">(18-24 hilabete artean)</tspan></text></g>
<g id="n87" class="n"><rect x="3893" y="977" width="172" height="47"/><text><tspan x="3979" y="997.3">Objektuen iraunkortasun</tspan><tspan x="3979" y="1012">printzipioa bereganatu</tspan></text></g>
<g id="n88" class="n"><rect x="3338" y="1025" width="222" height="46"/><text><tspan x="3449" y="1045">Funtzio sinbolikoa edo semiotikoa</tspan><tspan x="3449" y="1059.7">agertzen da</tspan></text></g>
<g id="n89" class="n"><rect x="3686" y="1022" width="92" height="29"/><text x="3732" y="1040.7">PORTAERAN</text></g>
<g id="n90" class="n"><rect x="3060" y="1036" width="168" height="46"/><text><tspan x="3144" y="1056.3">Umea hasten da bilatzen</tspan><tspan x="3144" y="1071">objektu gordea</tspan></text></g>
<g id="n91" class="n"><rect x="3069" y="1160" width="163" height="32"/><text x="3150.5" y="1179">Berau mugitzen denean</text></g>
<g id="n92" class="n"><rect x="3058" y="1248" width="181" height="47"/><text><tspan x="3148.5" y="1268">Desplazamendu ikuzesinak</tspan><tspan x="3148.5" y="1282.6">ezin ditu imajinatu</tspan></text></g>
<g id="n93" class="n"><rect x="3301" y="1137" width="304" height="59"/><text><tspan x="3453" y="1156">Pentsamendu eta lengoaiaren bidez</tspan><tspan x="3453" y="1170.7">objektuen barne errepresentazioak erabiltzeko</tspan><tspan x="3453" y="1185.3">gaitasuna izaten dute</tspan></text></g>
<g id="n94" class="n"><rect x="3317" y="1256" width="280" height="61"/><text><tspan x="3457" y="1276">Aurreko faseetan ausazko mugimendu</tspan><tspan x="3457" y="1291">eta saiakuntza-errore ekintzak</tspan><tspan x="3457" y="1305.2">bere esplorazioko estrategia nagusiak ziren</tspan></text></g>
<g id="n95" class="n"><rect x="3357" y="1395" width="203" height="46"/><text><tspan x="3458.5" y="1414.3">kapaz izango da pentsatzeko,</tspan><tspan x="3458.5" y="1428.7">lehenik eta jarduteko gero</tspan></text></g>
<g id="n96" class="n"><rect x="3663" y="1117" width="143" height="46"/><text><tspan x="3734.5" y="1136">Jokabide mota berri</tspan><tspan x="3734.5" y="1150.8">bat agertuko da</tspan></text></g>
<g id="n97" class="n"><rect x="3935" y="1125" width="117" height="32"/><text x="3993.5" y="1144">Imitazio gerotua</text></g>
<g id="n98" class="n"><rect x="3634" y="1248" width="202" height="45"/><text><tspan x="3735" y="1267">Lehenago gertaturiko akzioak</tspan><tspan x="3735" y="1281.8">errepikatzeko gauza izango da</tspan></text></g>
<g id="n99" class="n"><rect x="3858" y="1268" width="122" height="32"/><text x="3919" y="1287">Aurreko etapatan</text></g>
<g id="n100" class="n"><rect x="3802" y="1375" width="228" height="32"/><text x="3916" y="1394.3">Imitazio tupustukoa egiteko gauza</text></g>
<g id="n101" class="n"><rect x="3845" y="1453" width="144" height="46"/><text><tspan x="3917" y="1472.2">Errepikatzea bere</tspan><tspan x="3917" y="1486.7">aurrean egiten dena</tspan></text></g>
<g id="n102" class="n"><rect x="3986" y="1307" width="186" height="44"/><text><tspan x="4079" y="1326">Ez da beharrezkoa modeloa</tspan><tspan x="4079" y="1341">aurrean izatea</tspan></text></g>
<g id="n103" class="n"><rect x="4084" y="1068" width="219" height="46"/><text><tspan x="4193.5" y="1087">Umeak irudika dezake</tspan><tspan x="4193.5" y="1101.8">begi-bistan ez dauden objektuak</tspan></text></g>
<g id="n104" class="n"><rect x="4117" y="1218" width="159" height="44"/><text><tspan x="4196.5" y="1236.7">Beraiek egin ditzaketen</tspan><tspan x="4196.5" y="1251.4">ibilbide ikusezinak</tspan></text></g>
<g id="n105" class="n"><rect x="4394" y="1144" width="141" height="59"/><text><tspan x="4464.5" y="1163.8">Umea funtzio</tspan><tspan x="4464.5" y="1178.5">sinbolikoa garatzen</tspan><tspan x="4464.5" y="1193">hasi delako</tspan></text></g>
<g id="n106" class="n"><rect x="4353" y="1258" width="220" height="44"/><text><tspan x="4463" y="1277.3">objektuak eta jazoera ausenteak</tspan><tspan x="4463" y="1291.7">irudikatzeko ahalmena</tspan></text></g>
<g id="n107" class="n"><rect class="sg" x="4627" y="932" width="348" height="33"/><rect x="4623" y="928" width="348" height="33"/><text class="b" x="4797" y="948">A)PENTSAMENDUAREN EZAUGARRI OROKORRAK</text></g>
<g id="n108" class="n"><rect x="4686" y="1107" width="217" height="45"/><text><tspan x="4794.5" y="1127" class="b u">Pentsamendu sinbolikoarekin</tspan><tspan x="4794.5" y="1141.7">hasten da</tspan></text></g>
<g id="n109" class="n"><rect class="sg" x="5126" y="799" width="257" height="31"/><rect x="5122" y="795" width="257" height="31"/><text class="b" x="5250.5" y="814.3">B)PENTSAMENDU TRANSDUKTIBOA</text></g>
<g id="n110" class="n"><rect x="5293" y="650" width="115" height="44"/><text><tspan x="5350.5" y="669">2 eta 4</tspan><tspan x="5350.5" y="683.8">bitarteko umeek</tspan></text></g>
<g id="n111" class="n"><rect x="5460" y="708" width="212" height="44"/><text><tspan x="5566" y="727">Pentsamendu, ez da deduktiboa</tspan><tspan x="5566" y="742">ezta induktiboa ere</tspan></text></g>
<g id="n112" class="n"><rect x="5490" y="869" width="156" height="44"/><text><tspan x="5568" y="888">Umeak era ez logikoan</tspan><tspan x="5568" y="902.8">datuak lotzen ditu</tspan></text></g>
<g id="n113" class="n"><rect x="5082" y="927" width="155" height="31"/><text x="5159.5" y="947">AUREKONTZEPTUETAN</text></g>
<g id="n114" class="n"><rect x="5059" y="1036" width="202" height="45"/><text><tspan x="5160" y="1055">Gertaera partikular eta</tspan><tspan x="5160" y="1070">kontzeptu abstraktuen artean</tspan></text></g>
<g id="n115" class="n"><rect x="5066" y="1150" width="181" height="44"/><text><tspan x="5156.5" y="1169">Mugimenduzko eskema eta</tspan><tspan x="5156.5" y="1183.8">ideia orokortuen artean</tspan></text></g>
<g id="n116" class="n"><rect x="5286" y="962" width="186" height="46"/><text><tspan x="5379" y="980.8">Ume kasu konkretu batetik,</tspan><tspan x="5379" y="995.6">beste partikular batera doa</tspan></text></g>
<g id="n117" class="n"><rect x="5308" y="1094" width="143" height="47"/><text><tspan x="5379.5" y="1114">Askotan errealitatea</tspan><tspan x="5379.5" y="1128.7">gaizki ulertu</tspan></text></g>
<g id="n118" class="n"><rect x="5078" y="1300" width="204" height="46"/><text><tspan x="5180" y="1321.3">Lehendabiziko INBARIANTEAK</tspan><tspan x="5180" y="1335.8">mamitzen ditu</tspan></text></g>
<g id="n119" class="n"><rect x="5053" y="1462" width="251" height="73"/><text><tspan x="5178.5" y="1481">Errealitate aldakorren aurrean</tspan><tspan x="5178.5" y="1496">eraikitzen ditu aldaketa gabe dirauten</tspan><tspan x="5178.5" y="1510.5">barne ERREPRESENTAZIO</tspan><tspan x="5178.5" y="1525">edo INBARIENTEAK</tspan></text></g>
<g id="n120" class="n"><rect x="5400" y="1474" width="165" height="46"/><text><tspan x="5482.5" y="1493">Beste inabriente</tspan><tspan x="5482.5" y="1508">batzuk ez ditu garatuko</tspan></text></g>
<g id="n121" class="n"><rect x="5054" y="1607" width="256" height="46"/><text><tspan x="5182" y="1626">Objektuek izan ditzaketen lekualdatze,</tspan><tspan x="5182" y="1641">forma ala itxura aldaketa gorabehera</tspan></text></g>
<g id="n122" class="n"><rect x="5106" y="1741" width="159" height="44"/><text><tspan x="5185.5" y="1760.3">Objektuen identitateak</tspan><tspan x="5185.5" y="1775">dirauela ulertzen du</tspan></text></g>
<g id="n123" class="n"><rect x="4406" y="1392" width="226" height="47"/><text><tspan x="4519" y="1412">Umea eskemak barneratzeari ekin</tspan><tspan x="4519" y="1427">eta lengoaia menperatzen hasi</tspan></text></g>
<g id="n124" class="n"><rect x="4552" y="1467" width="209" height="44"/><text><tspan x="4656.5" y="1486.3">Pentsamendu egozentrikoa eta</tspan><tspan x="4656.5" y="1500.7">arrzoibide intuitiboa ditu</tspan></text></g>
<g id="n125" class="n"><rect x="4883" y="1421" width="137" height="44"/><text><tspan x="4951.5" y="1440.3">sentitze-mugitzeko</tspan><tspan x="4951.5" y="1454.7">adimenetetik</tspan></text></g>
<g id="n126" class="n"><rect x="4763" y="1557" width="205" height="46"/><text><tspan x="4865.5" y="1576">Barne eskema eta sinboloetan</tspan><tspan x="4865.5" y="1591">erroturiko inteligentziara</tspan></text></g>
<g id="n127" class="n"><rect x="4759" y="1680" width="212" height="45"/><text><tspan x="4865" y="1699.7">Esperientzia fisikoa,</tspan><tspan x="4865" y="1713.8">barne esperientzia bihur dezake</tspan></text></g>
<g id="n128" class="n"><rect x="4441" y="1683" width="162" height="47"/><text><tspan x="4522" y="1703">Sinbolo, irudikapen</tspan><tspan x="4522" y="1717.6">eta kontzeptuak erabiliz</tspan></text></g>
<g id="n129" class="n"><rect x="4612" y="1850" width="154" height="44"/><text><tspan x="4689" y="1870">Mentalki konponbideak</tspan><tspan x="4689" y="1884.6">entsea ditzake</tspan></text></g>
<g id="n130" class="n"><rect x="4910" y="1848" width="249" height="45"/><text><tspan x="5034.5" y="1867.6">Begi-bistan ez dauden egioera,</tspan><tspan x="5034.5" y="1882">testinguru edo gertaeretan jar daiteke</tspan></text></g>
<g id="n131" class="n"><rect x="4682" y="1920" width="344" height="46"/><text><tspan x="4854" y="1939">Berehalako egoeretatik aldetzeko eta gertatuko dena</tspan><tspan x="4854" y="1954">aurreratzeko gauza izatea</tspan></text></g>
</g>
</g>
</svg>
